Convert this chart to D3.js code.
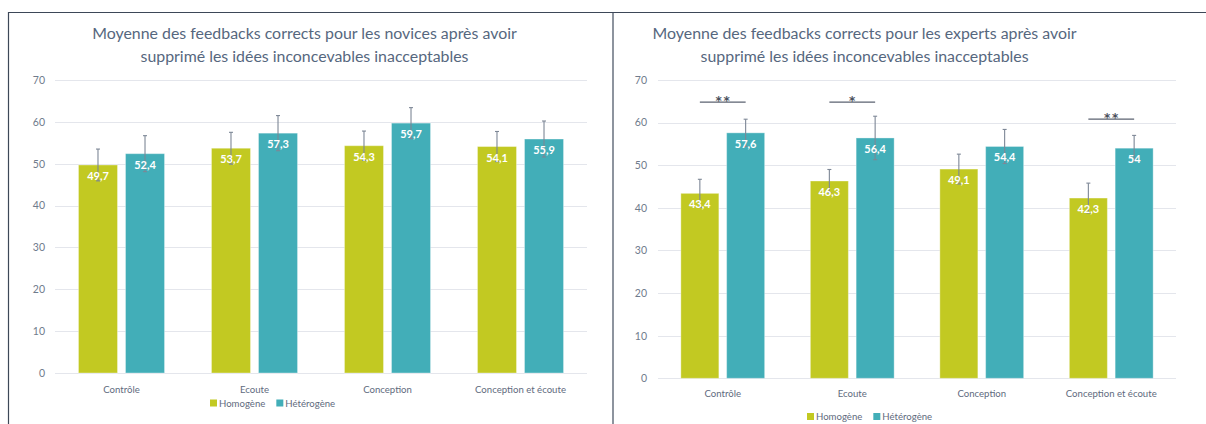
<!DOCTYPE html>
<html>
<head>
<meta charset="utf-8">
<script src="https://cdn.jsdelivr.net/npm/d3@7"></script>
<style>
  html, body { margin: 0; padding: 0; background: #ffffff; }
  svg { display: block; }
</style>
</head>
<body>
<svg id="chart" width="1206" height="424"></svg>
<script>
// ---------- data ----------
const categories = ["Contrôle", "Ecoute", "Conception", "Conception et écoute"];
const seriesNames = ["Homogène", "Hétérogène"];
const yTicks = [0, 10, 20, 30, 40, 50, 60, 70];

const noviceTitle = ["Moyenne des feedbacks corrects pour les novices après avoir", "supprimé les idées inconcevables inacceptables"];
const noviceHomogene = [49.7, 53.7, 54.3, 54.1];
const noviceHeterogene = [52.4, 57.3, 59.7, 55.9];
const noviceErrHomogene = [3.8, 3.8, 3.5, 3.6];
const noviceErrHeterogene = [4.3, 4.2, 3.7, 4.3];

const expertTitle = ["Moyenne des feedbacks corrects pour les experts après avoir", "supprimé les idées inconcevables inacceptables"];
const expertHomogene = [43.4, 46.3, 49.1, 42.3];
const expertHeterogene = [57.6, 56.4, 54.4, 54];
const expertErrHomogene = [3.3, 2.7, 3.5, 3.5];
const expertErrHeterogene = [3.2, 5.1, 4.0, 3.0];

const expertSigCategories = ["Contrôle", "Ecoute", "Conception et écoute"];
const expertSigStars = ["**", "*", "**"];
const expertSigLevels = [64.8, 64.8, 60.8];

// ---------- styles ----------
const colors = { "Homogène": "#c2c922", "Hétérogène": "#42aeb8" };
const FONT = "Lato, 'Open Sans', sans-serif";
const svg = d3.select("#chart");

// frame
svg.append("line").attr("x1", 8).attr("x2", 1206).attr("y1", 12.5).attr("y2", 12.5)
  .attr("stroke", "#3d4858").attr("stroke-width", 1.2);
svg.append("line").attr("x1", 8.5).attr("x2", 8.5).attr("y1", 12).attr("y2", 424)
  .attr("stroke", "#3d4858").attr("stroke-width", 1.2);
svg.append("line").attr("x1", 613).attr("x2", 613).attr("y1", 13).attr("y2", 424)
  .attr("stroke", "#8d949e").attr("stroke-width", 2);

function drawPanel(cfg) {
  const g = svg.append("g");

  // title
  const title = g.append("text")
    .attr("x", cfg.titleX).attr("y", 39)
    .attr("text-anchor", "middle")
    .attr("font-family", FONT).attr("font-size", 15.9)
    .attr("fill", "#56677e");
  cfg.title.forEach((t, i) => {
    title.append("tspan").attr("x", cfg.titleX).attr("y", 39 + i * 23).text(t);
  });

  const y = d3.scaleLinear().domain([0, 70]).range([cfg.y0, cfg.yTop]);
  const x0 = d3.scaleBand().domain(categories).range([cfg.left, cfg.right]).padding(0);
  const groupW = x0.step() * 0.647;
  const x1 = d3.scaleBand().domain(seriesNames).range([-groupW / 2, groupW / 2]).paddingInner(0.17);

  // gridlines
  g.append("g").selectAll("line").data(yTicks).join("line")
    .attr("x1", cfg.left).attr("x2", cfg.right)
    .attr("y1", d => Math.round(y(d)) + 0.5).attr("y2", d => Math.round(y(d)) + 0.5)
    .attr("stroke", "#e4e6ec").attr("stroke-width", 1.2);

  // y axis labels
  const yAxis = d3.axisLeft(y).tickValues(yTicks).tickSize(0).tickPadding(0);
  const ya = g.append("g").attr("transform", `translate(${cfg.tickX},0)`).call(yAxis);
  ya.select(".domain").remove();
  ya.selectAll("text").attr("font-family", FONT).attr("font-size", 10.5).attr("fill", "#6f7b8d");

  // x axis labels
  const xAxis = d3.axisBottom(x0).tickSize(0).tickPadding(0);
  const xa = g.append("g").attr("transform", `translate(0,${cfg.xLabelY})`).call(xAxis);
  xa.select(".domain").remove();
  xa.selectAll("text").attr("font-family", FONT).attr("font-size", 9.6).attr("fill", "#5f6b7e").attr("dy", 0);

  const rows = [];
  categories.forEach((c, i) => {
    rows.push({ cat: c, s: seriesNames[0], v: cfg.hom[i], e: cfg.errHom[i] });
    rows.push({ cat: c, s: seriesNames[1], v: cfg.het[i], e: cfg.errHet[i] });
  });
  const bx = d => x0(d.cat) + x0.bandwidth() / 2 + x1(d.s);

  // bars
  g.append("g").selectAll("rect").data(rows).join("rect")
    .attr("x", d => bx(d)).attr("width", x1.bandwidth())
    .attr("y", d => y(d.v)).attr("height", d => y(0) - y(d.v))
    .attr("fill", d => colors[d.s])
    .attr("stroke", "rgba(255,255,255,0.35)").attr("stroke-width", 1);

  // error bars
  const eg = g.append("g").attr("stroke", "#7d8796").attr("stroke-width", 1.1).attr("fill", "none");
  rows.forEach(d => {
    const xc = bx(d) + x1.bandwidth() / 2;
    eg.append("line").attr("x1", xc).attr("x2", xc).attr("y1", y(d.v + d.e)).attr("y2", y(d.v - d.e));
    eg.append("line").attr("x1", xc - 2).attr("x2", xc + 2).attr("y1", y(d.v + d.e)).attr("y2", y(d.v + d.e));
    eg.append("line").attr("x1", xc - 2).attr("x2", xc + 2).attr("y1", y(d.v - d.e)).attr("y2", y(d.v - d.e));
  });

  // value labels
  g.append("g").selectAll("text").data(rows).join("text")
    .attr("x", d => bx(d) + x1.bandwidth() / 2)
    .attr("y", d => y(d.v) + 15)
    .attr("text-anchor", "middle")
    .attr("font-family", FONT).attr("font-weight", "bold").attr("font-size", 11)
    .attr("fill", "#ffffff")
    .text(d => String(d.v).replace(".", ","));

  // significance
  if (cfg.sigCats) {
    cfg.sigCats.forEach((c, i) => {
      const xa_ = x0(c) + x0.bandwidth() / 2 + x1(seriesNames[0]) + x1.bandwidth() / 2;
      const xb_ = x0(c) + x0.bandwidth() / 2 + x1(seriesNames[1]) + x1.bandwidth() / 2;
      const yy = y(cfg.sigLevels[i]);
      g.append("line").attr("x1", xa_).attr("x2", xb_).attr("y1", yy).attr("y2", yy)
        .attr("stroke", "#5b6270").attr("stroke-width", 1.3);
      const n = cfg.sigStars[i].length;
      for (let k = 0; k < n; k++) {
        g.append("text").attr("x", (xa_ + xb_) / 2 + (k - (n - 1) / 2) * 8).attr("y", yy + 3)
          .attr("text-anchor", "middle")
          .attr("font-family", "'DejaVu Sans', sans-serif").attr("font-weight", "bold").attr("font-size", 12)
          .attr("fill", "#4a505c").text("*");
      }
    });
  }

  // legend
  const lg = g.append("g");
  let lx = cfg.legendX;
  seriesNames.forEach(s => {
    lg.append("rect").attr("x", lx).attr("y", cfg.legendY - 7).attr("width", 7).attr("height", 7).attr("fill", colors[s]);
    const t = lg.append("text").attr("x", lx + 9).attr("y", cfg.legendY)
      .attr("font-family", FONT).attr("font-size", 9.6).attr("fill", "#5f6b7e").text(s);
    lx += 9 + t.node().getComputedTextLength() + 11;
  });
}

drawPanel({
  title: noviceTitle, titleX: 304.5,
  left: 55, right: 587, y0: 373, yTop: 80, tickX: 45,
  xLabelY: 393, legendX: 210, legendY: 406.5,
  hom: noviceHomogene, het: noviceHeterogene, errHom: noviceErrHomogene, errHet: noviceErrHeterogene
});

drawPanel({
  title: expertTitle, titleX: 864.6,
  left: 658, right: 1176, y0: 378.3, yTop: 80, tickX: 647,
  xLabelY: 397, legendX: 807, legendY: 420,
  hom: expertHomogene, het: expertHeterogene, errHom: expertErrHomogene, errHet: expertErrHeterogene,
  sigCats: expertSigCategories, sigStars: expertSigStars, sigLevels: expertSigLevels
});
</script>
</body>
</html>
